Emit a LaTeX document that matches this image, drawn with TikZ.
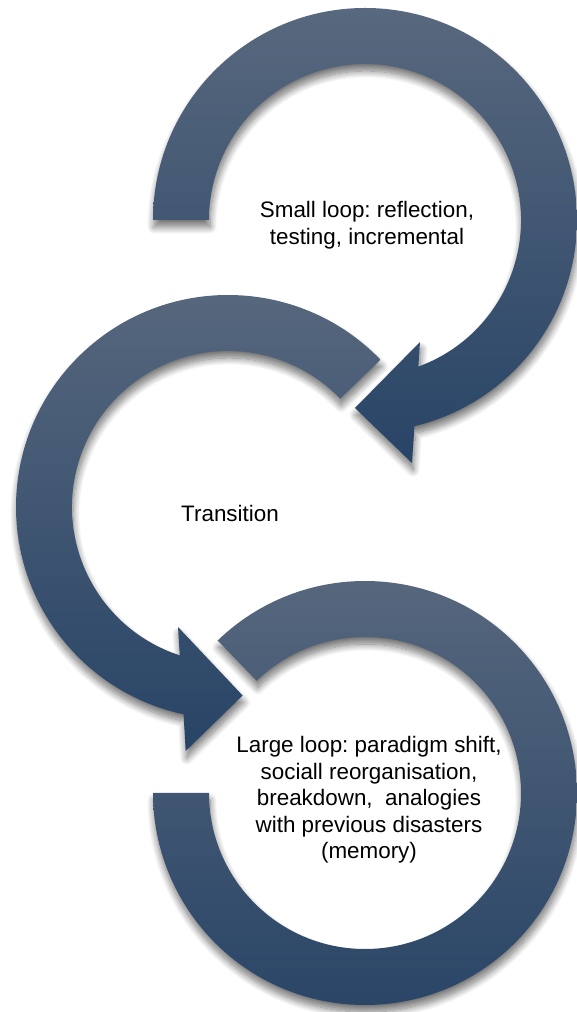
\documentclass[tikz,border=0pt]{standalone}
\usepackage{fontspec}
\setmainfont{Liberation Sans}
\usetikzlibrary{calc,shadows.blur}
\definecolor{arclight}{RGB}{88,104,126}
\definecolor{arcdark}{RGB}{40,68,102}
\frenchspacing
\begin{document}
\begin{tikzpicture}[x=1pt,y=1pt,
  loopshape/.style={top color=arclight, bottom color=arcdark,
    blur shadow={shadow xshift=1pt, shadow yshift=-7pt, shadow blur radius=7pt, shadow blur steps=12, shadow opacity=55}},
  looplabel/.style={align=center, font=\fontsize{22.4}{26.5}\selectfont, text=black, inner sep=0pt}]
\useasboundingbox (0,0) rectangle (576,1012);
% centres of the three loops
\coordinate (c1) at (365,792);
\coordinate (c2) at (228,505);
\coordinate (c3) at (365,219);
% top loop (small loop) with arrow head
\coordinate (h1a) at (412,549);
\coordinate (h1t) at (355,604);
\coordinate (h1b) at (420,670);
\path[loopshape] ($(c1)+(180:212)$) arc[start angle=180, end angle=-76.5, radius=212]
  -- (h1a) -- (h1t) -- (h1b) -- ($(c1)+(-70:156)$)
  arc[start angle=-70, end angle=180, radius=156] -- cycle;
% middle loop (transition) with arrow head
\coordinate (h2a) at (185.7,261);
\coordinate (h2t) at (242.6,316.5);
\coordinate (h2b) at (178,385);
\path[loopshape] ($(c2)+(44:212)$) arc[start angle=44, end angle=257.9, radius=212]
  -- (h2a) -- (h2t) -- (h2b) -- ($(c2)+(252:156)$)
  arc[start angle=252, end angle=44, radius=156] -- cycle;
% bottom loop (large loop)
\path[loopshape] ($(c3)+(134:212)$) arc[start angle=134, end angle=-180, radius=212]
  -- ($(c3)+(180:156)$) arc[start angle=-180, end angle=134, radius=156] -- cycle;
% labels
\node[looplabel] (small) at (367,787) {Small loop: reflection,\\testing, incremental};
\node[looplabel] (trans) at (230,499) {Transition};
\node[looplabel] (large) at (369,212) {Large loop: paradigm shift,\\sociall reorganisation,\\breakdown,~ analogies\\with previous disasters\\(memory)};
\end{tikzpicture}
\end{document}
